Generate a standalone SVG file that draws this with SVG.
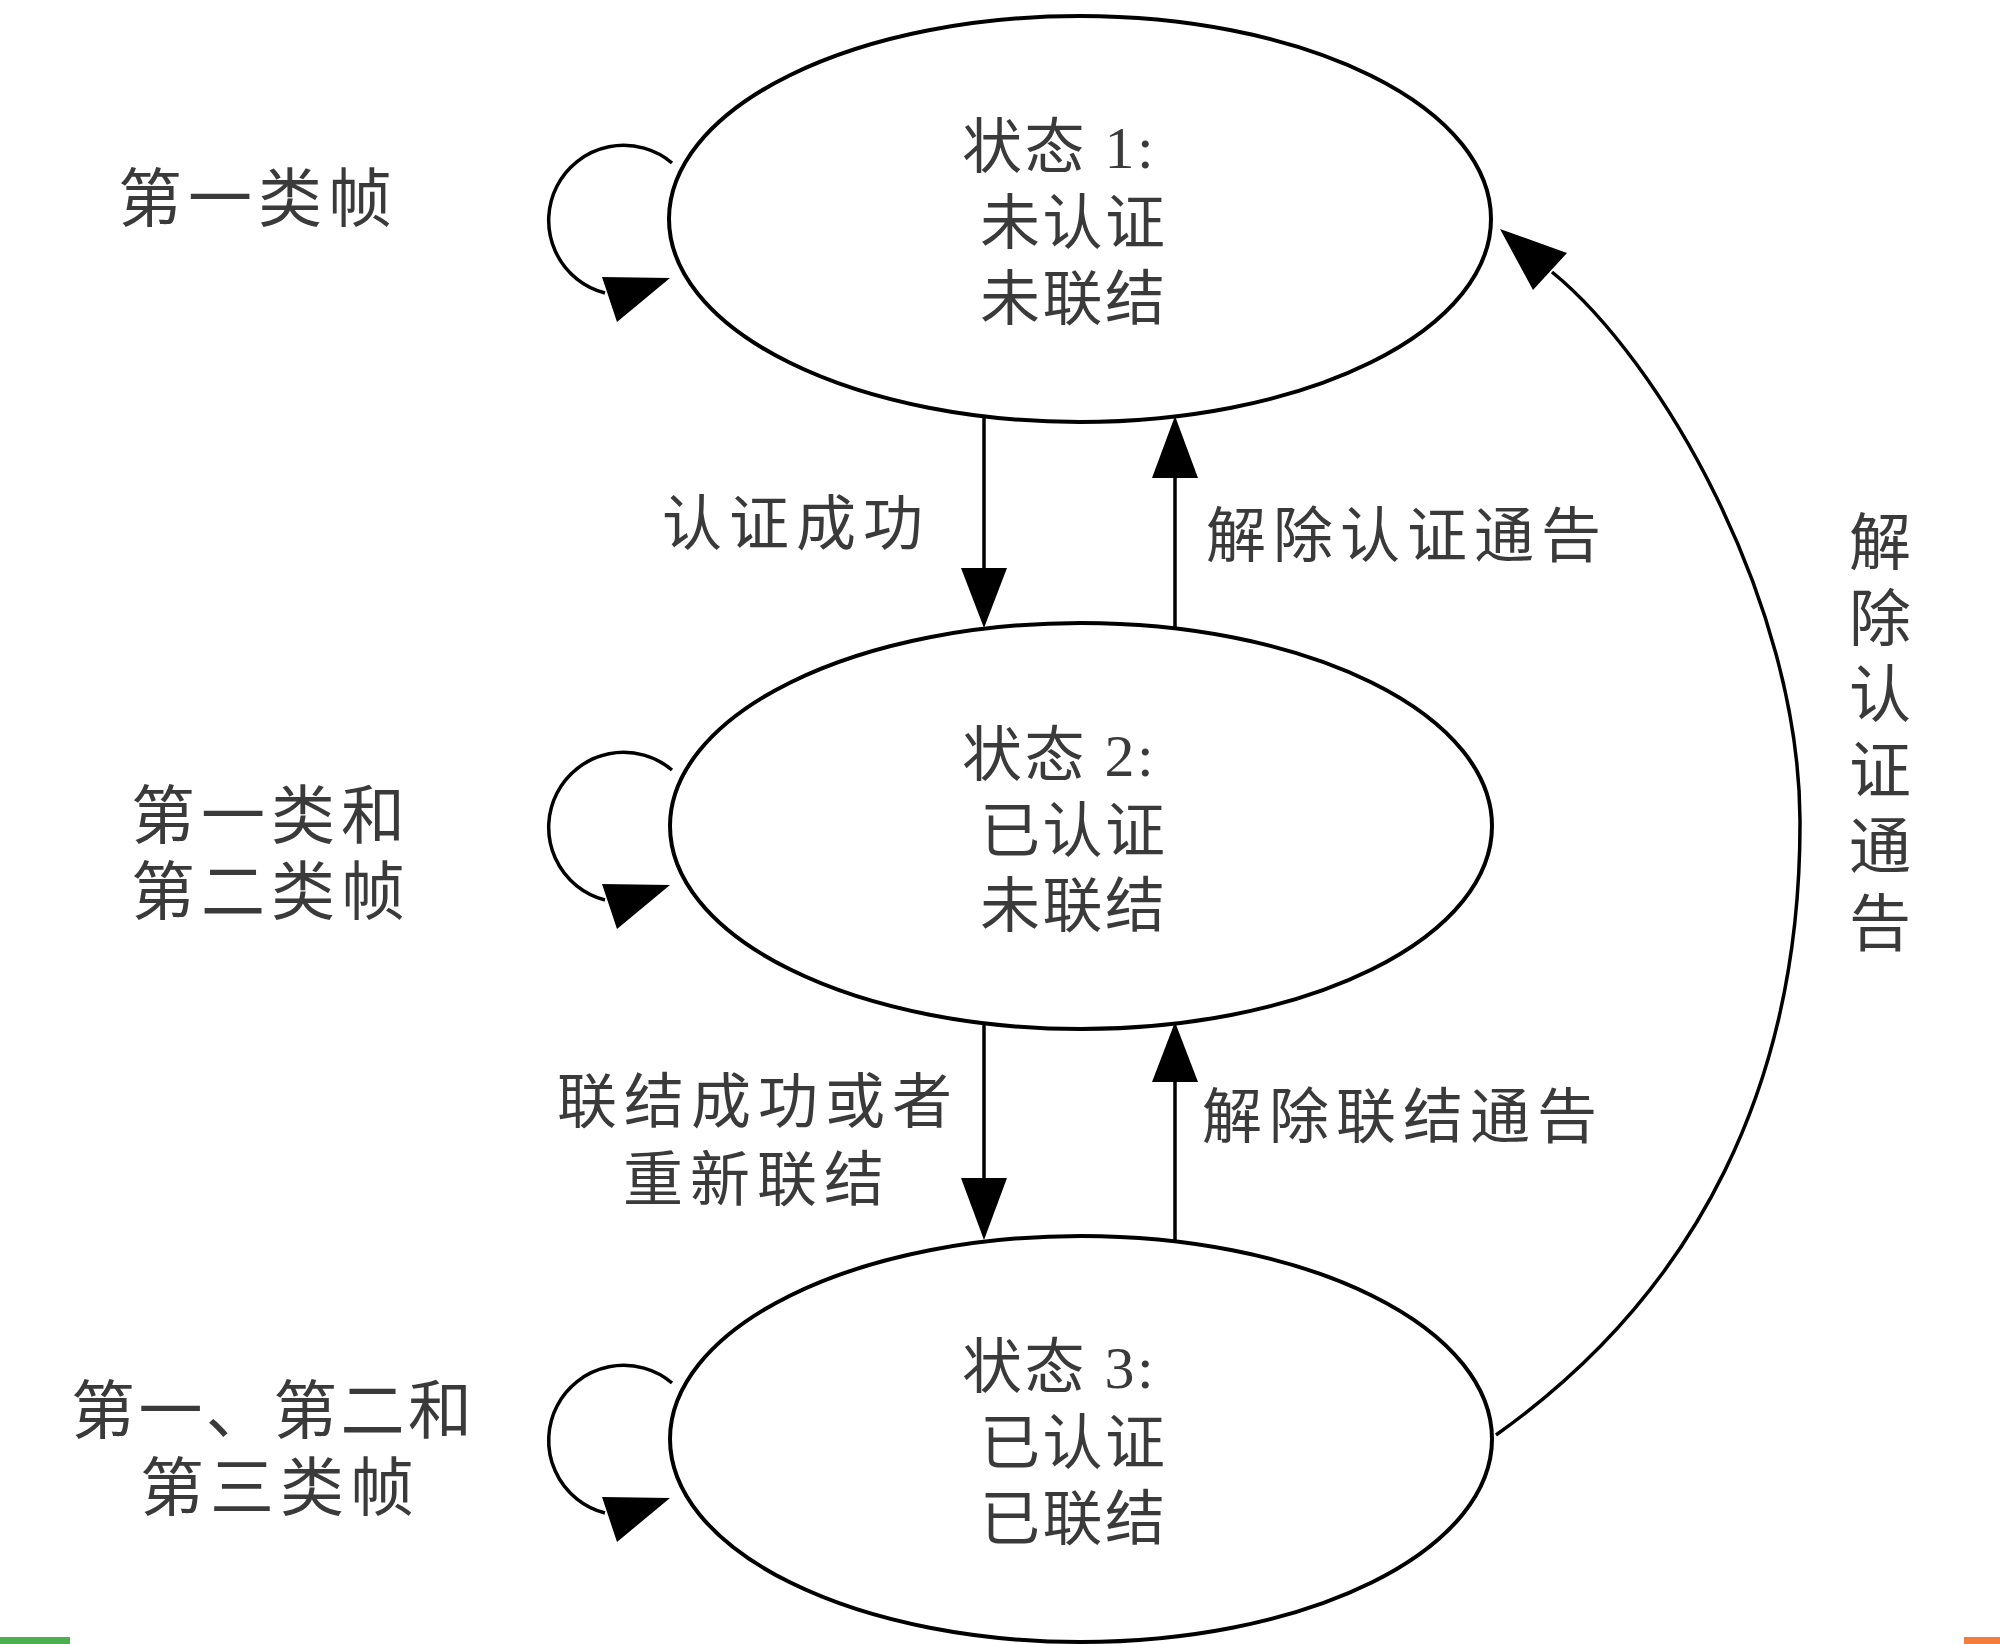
<svg xmlns="http://www.w3.org/2000/svg" width="2000" height="1644" viewBox="0 0 2000 1644">
<style>
.st{fill:none;stroke:#000;stroke-width:4}
.ln{fill:none;stroke:#000;stroke-width:3.5}
.ah{fill:#000;stroke:none}
.t{font-family:"Liberation Serif","Noto Sans CJK SC",serif;fill:#3a3a3a}
.s{font-size:60px;letter-spacing:2.5px}
.lab{font-size:64px;letter-spacing:6px}
.e{font-size:60px;letter-spacing:7px}
.v{font-size:62px;text-anchor:middle}
</style>
<rect width="2000" height="1644" fill="#fff"/>
<g id="state1">
<ellipse class="st" cx="1080" cy="219" rx="411" ry="203"/>
<text class="t s" x="962" y="168">状态 1:</text>
<text class="t s" x="980" y="244">未认证</text>
<text class="t s" x="980" y="320">未联结</text>
</g>
<g id="state2">
<ellipse class="st" cx="1081" cy="826" rx="411" ry="203"/>
<text class="t s" x="962" y="776">状态 2:</text>
<text class="t s" x="980" y="852">已认证</text>
<text class="t s" x="980" y="927">未联结</text>
</g>
<g id="state3">
<ellipse class="st" cx="1081" cy="1439" rx="411" ry="203"/>
<text class="t s" x="962" y="1388">状态 3:</text>
<text class="t s" x="980" y="1464">已认证</text>
<text class="t s" x="980" y="1540">已联结</text>
</g>
<g id="labels">
<text class="t lab" x="118" y="221">第一类帧</text>
<text class="t lab" x="131" y="838">第一类和</text>
<text class="t lab" x="131" y="914">第二类帧</text>
<text class="t lab" x="71" y="1433" style="letter-spacing:3.4px">第一、第二和</text>
<text class="t lab" x="140" y="1510">第三类帧</text>
<text class="t e" x="662" y="545">认证成功</text>
<text class="t e" x="1206" y="557">解除认证通告</text>
<text class="t e" x="557" y="1123">联结成功或者</text>
<text class="t e" x="623" y="1201">重新联结</text>
<text class="t e" x="1202" y="1138">解除联结通告</text>
<text class="t v" x="1880" y="565">解</text>
<text class="t v" x="1880" y="641">除</text>
<text class="t v" x="1880" y="717">认</text>
<text class="t v" x="1880" y="793">证</text>
<text class="t v" x="1880" y="869">通</text>
<text class="t v" x="1880" y="946">告</text>
</g>
<g id="connectors">
<path class="ln" d="M672,163 A75,75 0 1,0 605,293"/>
<polygon class="ah" points="602,277 670,278 617,322"/>
<path class="ln" d="M672,770 A75,75 0 1,0 605,900"/>
<polygon class="ah" points="602,884 670,885 617,929"/>
<path class="ln" d="M672,1383 A75,75 0 1,0 605,1513"/>
<polygon class="ah" points="602,1497 670,1498 617,1542"/>
<line class="ln" x1="984" y1="417" x2="984" y2="575"/>
<polygon class="ah" points="961,568 1007,568 984,628"/>
<line class="ln" x1="1175" y1="630" x2="1175" y2="470"/>
<polygon class="ah" points="1152,478 1198,478 1175,416"/>
<line class="ln" x1="984" y1="1022" x2="984" y2="1185"/>
<polygon class="ah" points="961,1178 1007,1178 984,1240"/>
<line class="ln" x1="1175" y1="1242" x2="1175" y2="1075"/>
<polygon class="ah" points="1152,1082 1198,1082 1175,1022"/>
<path class="ln" d="M1496,1435 C1700,1290 1801,1080 1800,820 C1799,600 1660,360 1552,272"/>
<polygon class="ah" points="1500,229 1533,290 1567,253"/>
</g>
<rect x="0" y="1637" width="70" height="7" fill="#4caf50"/>
<rect x="1964" y="1637" width="36" height="7" fill="#f47c3c"/>
</svg>
